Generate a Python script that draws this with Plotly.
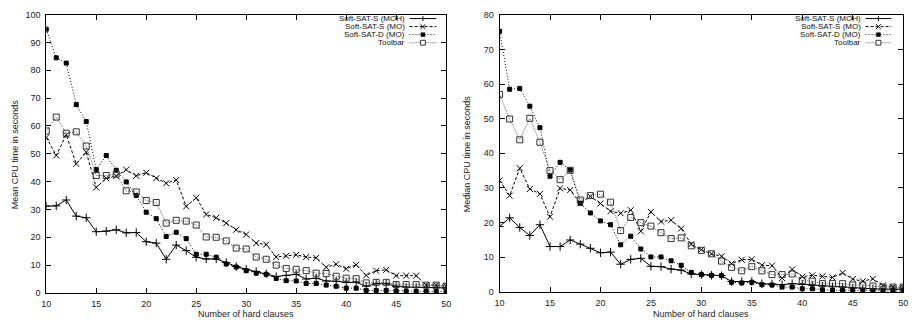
import plotly.graph_objects as go

# ---------------- data ----------------
x_clauses = list(range(10, 51))

series_names = ["Soft-SAT-S (MOH)", "Soft-SAT-S (MO)", "Soft-SAT-D (MO)", "Toolbar"]

mean_moh = [31.2, 31.3, 33.4, 27.6, 27.0, 22.0, 22.2, 22.7, 21.6, 21.7, 18.4, 17.9, 12.1, 17.2, 15.2,
            12.8, 12.2, 12.2, 10.9, 9.5, 8.5, 7.7, 6.9, 5.9, 6.3, 6.7, 5.0, 5.3, 4.3, 4.2,
            3.8, 3.8, 2.4, 3.3, 3.3, 2.4, 2.1, 2.0, 2.0, 1.9, 1.8]
mean_s_mo = [55.9, 49.4, 56.8, 46.4, 50.6, 37.9, 41.2, 42.0, 44.3, 42.1, 43.2, 41.2, 39.4, 40.6, 31.1,
             34.2, 28.2, 27.0, 25.1, 22.7, 21.0, 17.9, 17.4, 12.9, 13.3, 13.7, 12.9, 12.6, 9.2, 10.3,
             8.7, 10.1, 6.3, 8.0, 8.3, 6.2, 6.2, 6.2, 2.8, 2.8, 2.4]
mean_d_mo = [94.8, 84.5, 82.6, 67.7, 61.6, 44.3, 49.4, 44.1, 39.9, 35.0, 29.0, 26.7, 20.3, 21.8, 19.5,
             13.9, 13.9, 12.8, 10.4, 9.3, 8.0, 7.1, 6.7, 5.2, 4.4, 4.3, 3.4, 3.4, 2.8, 2.4,
             1.7, 1.7, 0.9, 0.9, 0.9, 0.7, 0.7, 0.6, 0.6, 0.6, 0.5]
mean_toolbar = [58.2, 63.2, 57.4, 57.9, 52.8, 42.2, 42.2, 42.7, 36.7, 36.3, 33.2, 32.5, 25.1, 26.1, 25.8,
                24.4, 20.1, 20.0, 18.7, 16.1, 15.8, 12.9, 12.1, 10.0, 8.8, 8.5, 8.0, 7.1, 7.0, 6.0,
                5.3, 5.1, 3.6, 3.8, 3.8, 3.0, 3.0, 3.0, 2.8, 2.8, 2.4]

median_moh = [18.9, 21.4, 18.6, 16.3, 19.4, 13.1, 13.1, 15.0, 13.8, 12.6, 11.3, 11.5, 8.0, 9.4, 9.7,
              7.4, 7.3, 6.6, 6.3, 5.2, 5.0, 4.8, 4.7, 3.0, 3.0, 3.0, 2.4, 2.3, 2.1, 2.4,
              2.2, 1.9, 1.7, 1.5, 1.4, 1.1, 0.9, 0.9, 0.8, 0.8, 0.8]
median_s_mo = [32.2, 27.8, 35.7, 29.7, 28.3, 21.7, 29.9, 29.4, 25.6, 27.6, 25.5, 23.3, 22.7, 23.6, 17.5,
               23.1, 20.3, 20.7, 18.3, 13.8, 12.2, 11.0, 10.3, 8.2, 9.3, 9.4, 7.7, 7.6, 4.0, 6.5,
               4.4, 4.8, 4.5, 4.2, 5.5, 3.7, 3.1, 3.8, 1.9, 1.4, 1.4]
median_d_mo = [75.2, 58.5, 58.7, 53.6, 47.4, 33.4, 37.4, 35.2, 25.6, 22.8, 20.5, 19.4, 13.6, 16.1, 12.4,
               10.1, 10.1, 9.0, 7.7, 5.6, 5.0, 4.8, 4.7, 2.8, 2.6, 2.8, 2.1, 2.0, 1.4, 1.4,
               0.9, 0.9, 0.6, 0.5, 0.5, 0.4, 0.4, 0.4, 0.3, 0.3, 0.3]
median_toolbar = [57.0, 49.9, 43.9, 50.1, 43.2, 35.0, 32.4, 35.1, 26.5, 27.8, 28.2, 25.9, 17.7, 21.5, 20.0,
                  19.0, 17.1, 15.4, 15.6, 13.3, 12.0, 11.0, 8.9, 7.1, 6.1, 7.3, 6.1, 5.0, 5.0, 5.2,
                  3.3, 3.1, 2.4, 2.4, 2.4, 2.0, 2.0, 1.7, 1.4, 1.4, 1.4]

x_ticks = [10, 15, 20, 25, 30, 35, 40, 45, 50]
mean_y_ticks = list(range(0, 101, 10))
median_y_ticks = list(range(0, 81, 10))

# ---------------- styles ----------------
W, H = 921, 327
FONT = "Liberation Sans, Arial, Helvetica, sans-serif"

styles = [
    dict(color="#000000", dash="solid", symbol="cross-thin-open", msize=6, mcolor="#000000"),
    dict(color="#000000", dash="3px,2px", symbol="x-thin-open", msize=6, mcolor="#000000"),
    dict(color="#000000", dash="1px,2px", symbol="square", msize=4, mcolor="#000000"),
    dict(color="#666666", dash="1px,1px", symbol="square-open", msize=6, mcolor="#333333"),
]

panels = [
    dict(xa="x", ya="y", data=[mean_moh, mean_s_mo, mean_d_mo, mean_toolbar],
         ytitle="Mean CPU time in seconds", yticks=mean_y_ticks, yr=[0, 100],
         px=(41.7, 446.0), py=(10.0, 297.0), ytitle_x=9.5, leg_right=405, leg_line=(409, 436)),
    dict(xa="x2", ya="y2", data=[median_moh, median_s_mo, median_d_mo, median_toolbar],
         ytitle="Median CPU time in seconds", yticks=median_y_ticks, yr=[0, 80],
         px=(500.0, 908.0), py=(10.0, 296.0), ytitle_x=467.0, leg_right=866, leg_line=(870, 896)),
]

fig = go.Figure()
annotations = []
shapes = []

def pxx(v):
    return v / W

def pxy(v):
    return 1 - v / H

LEG_Y0, LEG_DY, LEG_FS = 14.0, 8.3, 8

for p in panels:
    for name, ys, st in zip(series_names, p["data"], styles):
        fig.add_trace(go.Scatter(
            x=x_clauses, y=ys, name=name, xaxis=p["xa"], yaxis=p["ya"],
            mode="lines+markers", showlegend=False,
            line=dict(color=st["color"], width=1, dash=st["dash"]),
            marker=dict(symbol=st["symbol"], size=st["msize"], color=st["mcolor"],
                        line=dict(color=st["mcolor"], width=1)),
            hovertemplate=name + ": %{y}<extra></extra>",
        ))

    # axis titles
    annotations.append(dict(text=p["ytitle"], x=pxx(p["ytitle_x"]), y=pxy((p["py"][0] + p["py"][1]) / 2),
                            xref="paper", yref="paper", showarrow=False, textangle=-90,
                            xanchor="center", yanchor="middle", font=dict(size=9, color="#222", family=FONT)))
    annotations.append(dict(text="Number of hard clauses", x=pxx((p["px"][0] + p["px"][1]) / 2), y=pxy(319),
                            xref="paper", yref="paper", showarrow=False,
                            xanchor="center", yanchor="middle", font=dict(size=9, color="#222", family=FONT)))

    # key (gnuplot style: text right-aligned, sample to the right)
    for i, (name, st) in enumerate(zip(series_names, styles)):
        ry = LEG_Y0 + LEG_DY * i
        annotations.append(dict(text=name, x=pxx(p["leg_right"]), y=pxy(ry), xref="paper", yref="paper",
                                showarrow=False, xanchor="right", yanchor="middle", borderpad=0,
                                font=dict(size=LEG_FS, color="#111", family=FONT)))
        x0, x1 = p["leg_line"]
        xm = (x0 + x1) / 2
        shapes.append(dict(type="line", xref="paper", yref="paper", x0=pxx(x0), x1=pxx(x1), y0=pxy(ry), y1=pxy(ry),
                           line=dict(color=st["color"], width=1, dash=st["dash"])))
        h = 2.5
        if st["symbol"].startswith("cross"):
            shapes.append(dict(type="line", xref="paper", yref="paper", x0=pxx(xm), x1=pxx(xm),
                               y0=pxy(ry - h), y1=pxy(ry + h), line=dict(color="#000", width=1)))
        elif st["symbol"].startswith("x"):
            for a, b in [(-h, -h), (-h, h)]:
                shapes.append(dict(type="line", xref="paper", yref="paper", x0=pxx(xm + a), x1=pxx(xm - a),
                                   y0=pxy(ry + b), y1=pxy(ry - b), line=dict(color="#000", width=1)))
        elif st["symbol"] == "square":
            shapes.append(dict(type="rect", xref="paper", yref="paper", x0=pxx(xm - 2), x1=pxx(xm + 2),
                               y0=pxy(ry - 2), y1=pxy(ry + 2), fillcolor="#000", line=dict(color="#000", width=0.5)))
        else:
            shapes.append(dict(type="rect", xref="paper", yref="paper", x0=pxx(xm - 2.5), x1=pxx(xm + 2.5),
                               y0=pxy(ry - 2.5), y1=pxy(ry + 2.5), fillcolor="white", line=dict(color="#333", width=1)))

axis_common = dict(showgrid=False, zeroline=False, showline=True, linecolor="#000", linewidth=1,
                   mirror="allticks", ticks="inside", ticklen=5, tickwidth=1, tickcolor="#000",
                   tickfont=dict(size=9, color="#222", family=FONT), fixedrange=True)

layout = dict(
    width=W, height=H, margin=dict(l=0, r=0, t=0, b=0),
    paper_bgcolor="white", plot_bgcolor="white", showlegend=False,
    font=dict(family=FONT, size=9, color="#222"),
    annotations=annotations, shapes=shapes,
)
for k, p in enumerate(panels):
    sfx = "" if k == 0 else "2"
    layout["xaxis" + sfx] = dict(axis_common, domain=[pxx(p["px"][0]), pxx(p["px"][1])], range=[10, 50],
                                 tickvals=x_ticks, anchor="y" + sfx, ticklabelstandoff=2)
    layout["yaxis" + sfx] = dict(axis_common, domain=[pxy(p["py"][1]), pxy(p["py"][0])], range=p["yr"],
                                 tickvals=p["yticks"], anchor="x" + sfx, ticklabelstandoff=3)

fig.update_layout(**layout)
fig.write_html("out.html")
